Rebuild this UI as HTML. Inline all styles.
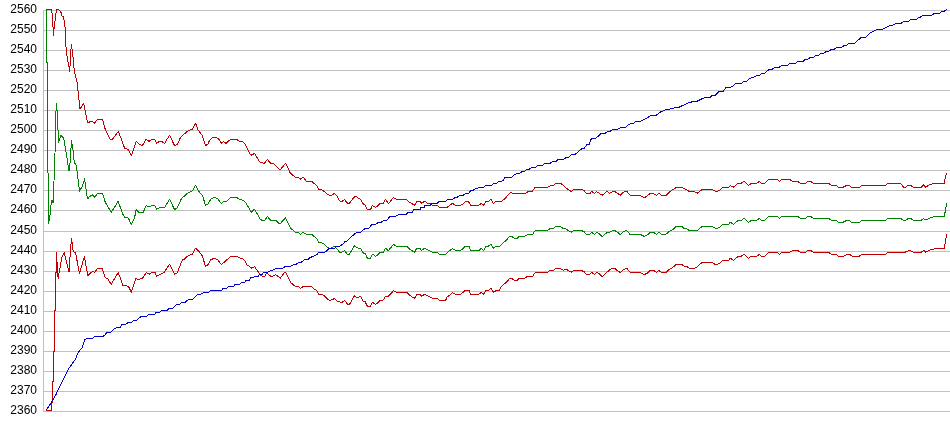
<!DOCTYPE html><html><head><meta charset="utf-8"><style>
html,body{margin:0;padding:0;background:#fff;width:950px;height:435px;overflow:hidden}
.l{position:absolute;right:913px;font:12px "Liberation Sans",sans-serif;color:#000;line-height:14px}
svg{position:absolute;left:0;top:0}
#labs{position:absolute;left:0;top:0;width:950px;height:435px;will-change:transform}
</style></head><body>
<div id="labs"><div class="l" style="top:2px">2560</div><div class="l" style="top:22px">2550</div><div class="l" style="top:42px">2540</div><div class="l" style="top:62px">2530</div><div class="l" style="top:82px">2520</div><div class="l" style="top:102px">2510</div><div class="l" style="top:122px">2500</div><div class="l" style="top:142px">2490</div><div class="l" style="top:162px">2480</div><div class="l" style="top:182px">2470</div><div class="l" style="top:202px">2460</div><div class="l" style="top:223px">2450</div><div class="l" style="top:243px">2440</div><div class="l" style="top:263px">2430</div><div class="l" style="top:283px">2420</div><div class="l" style="top:303px">2410</div><div class="l" style="top:323px">2400</div><div class="l" style="top:343px">2390</div><div class="l" style="top:363px">2380</div><div class="l" style="top:383px">2370</div><div class="l" style="top:403px">2360</div></div>
<svg width="950" height="435">
<rect x="43" y="10" width="1" height="402" fill="#c0c0c0"/>
<rect x="43" y="10" width="907" height="1" fill="#c0c0c0"/><rect x="43" y="30" width="907" height="1" fill="#c0c0c0"/><rect x="43" y="50" width="907" height="1" fill="#c0c0c0"/><rect x="43" y="70" width="907" height="1" fill="#c0c0c0"/><rect x="43" y="90" width="907" height="1" fill="#c0c0c0"/><rect x="43" y="110" width="907" height="1" fill="#c0c0c0"/><rect x="43" y="130" width="907" height="1" fill="#c0c0c0"/><rect x="43" y="150" width="907" height="1" fill="#c0c0c0"/><rect x="43" y="170" width="907" height="1" fill="#c0c0c0"/><rect x="43" y="190" width="907" height="1" fill="#c0c0c0"/><rect x="43" y="210" width="907" height="1" fill="#c0c0c0"/><rect x="43" y="231" width="907" height="1" fill="#c0c0c0"/><rect x="43" y="251" width="907" height="1" fill="#c0c0c0"/><rect x="43" y="271" width="907" height="1" fill="#c0c0c0"/><rect x="43" y="291" width="907" height="1" fill="#c0c0c0"/><rect x="43" y="311" width="907" height="1" fill="#c0c0c0"/><rect x="43" y="331" width="907" height="1" fill="#c0c0c0"/><rect x="43" y="351" width="907" height="1" fill="#c0c0c0"/><rect x="43" y="371" width="907" height="1" fill="#c0c0c0"/><rect x="43" y="391" width="907" height="1" fill="#c0c0c0"/><rect x="43" y="411" width="907" height="1" fill="#c0c0c0"/>
<g fill="none" stroke-width="1" shape-rendering="crispEdges" stroke-linejoin="round">
<polyline stroke="#c00000" points="46.0,9.5 51.5,9.5 52.5,16.0 53.4,35.5 54.0,29.5 55.0,21.5 56.5,9.5 58.6,9.5 61.0,12.4 62.0,16.0 63.5,17.0 64.5,22.0 65.3,30.0 65.5,46.7 66.4,47.2 67.0,55.9 68.1,62.2 69.0,66.8 69.5,71.4 70.2,64.5 70.7,52.4 71.4,44.9 72.2,50.7 73.3,59.3 74.1,69.1 75.3,76.0 76.8,80.0 80.0,109.0 83.7,103.3 87.6,122.9 91.7,121.0 94.5,123.3 97.5,119.4 100.0,119.3 102.6,119.3 104.7,127.9 106.2,131.0 110.3,139.3 112.4,139.3 118.4,131.3 124.8,148.6 127.9,149.1 131.5,155.3 136.2,141.4 139.3,144.5 142.4,145.5 146.0,139.3 149.1,141.4 151.7,139.3 154.8,139.6 156.4,143.1 159.5,141.4 161.5,141.4 164.6,143.4 169.5,135.2 174.5,145.5 177.1,144.5 180.7,137.2 183.8,134.4 188.4,130.5 192.1,129.3 195.7,123.3 198.1,130.0 202.4,135.7 205.5,145.5 207.6,144.5 209.6,140.3 212.7,137.2 215.8,137.2 219.5,139.8 221.5,143.4 223.3,141.7 225.0,142.4 226.0,143.4 229.7,140.1 231.7,139.3 236.4,139.3 239.5,141.2 242.1,141.6 244.6,143.2 249.8,154.0 251.9,155.3 254.5,153.3 260.2,162.6 264.3,163.3 267.4,159.5 270.5,163.1 273.6,163.6 279.3,169.1 280.6,169.3 285.5,163.3 290.0,172.4 291.9,174.5 295.7,177.4 298.6,177.4 300.7,179.2 303.3,177.1 306.4,181.2 311.5,181.2 314.7,184.0 316.5,185.3 318.8,189.3 322.9,190.3 327.9,194.8 331.1,195.4 334.2,193.5 336.8,196.0 339.9,201.1 342.5,201.1 344.4,199.4 347.5,203.2 349.4,203.2 355.0,196.2 356.6,196.4 358.1,198.2 360.7,199.5 363.3,204.1 365.3,205.2 367.4,209.6 370.5,209.6 372.4,205.5 375.5,207.2 377.2,206.2 380.3,203.4 383.1,203.4 385.5,199.3 388.3,203.6 390.7,201.0 393.5,197.4 396.4,199.5 406.7,199.5 409.3,202.1 411.9,203.6 414.5,205.5 416.8,201.3 419.6,201.3 421.7,203.4 425.0,201.0 426.7,202.9 430.0,203.4 432.7,205.4 437.7,205.4 439.1,207.1 440.0,207.4 447.2,207.4 449.8,205.3 452.4,203.3 455.5,205.3 460.7,205.3 462.8,204.3 465.6,201.2 468.4,201.2 470.5,205.3 478.8,205.3 481.4,203.3 483.4,205.6 486.0,201.5 488.6,201.2 491.2,199.1 493.3,203.3 496.4,201.2 501.5,201.2 505.1,198.6 507.7,195.5 510.0,192.9 517.9,193.4 525.7,193.4 527.8,191.9 532.4,191.2 535.0,187.2 547.4,187.2 550.5,185.7 553.1,185.7 555.7,183.3 560.3,183.3 562.4,184.6 566.6,188.4 569.1,190.2 571.4,191.5 573.3,189.4 581.5,189.4 584.1,190.7 586.7,193.6 589.8,193.6 591.7,191.5 594.5,193.6 596.5,191.5 599.6,193.6 602.4,195.3 605.3,192.5 607.2,191.5 609.5,193.6 612.6,191.5 614.6,191.5 617.2,193.0 620.3,195.3 623.4,192.2 626.8,191.2 630.1,195.3 635.0,195.3 639.9,195.5 644.5,197.8 650.5,193.3 653.6,193.6 656.5,195.3 658.6,193.3 661.7,195.3 666.0,195.3 670.9,190.9 676.7,187.2 681.3,187.2 689.3,191.4 693.9,191.4 697.4,193.2 702.0,189.5 712.2,189.3 715.3,191.4 717.4,191.4 720.0,189.8 722.6,187.2 728.6,187.2 730.3,185.5 733.4,187.2 736.5,184.4 738.6,183.4 741.2,183.4 743.5,181.3 745.8,182.6 748.4,185.5 751.3,183.4 756.7,183.4 759.3,181.3 761.4,183.4 764.5,183.4 767.6,180.3 769.6,179.3 775.0,179.3 777.6,179.3 779.3,181.3 782.2,179.3 789.5,179.3 792.6,181.3 797.8,181.3 800.3,183.4 805.8,183.4 807.6,181.3 810.7,181.3 813.3,183.4 828.8,183.4 831.4,185.5 836.8,185.5 838.3,187.2 843.3,187.2 845.0,186.2 846.6,185.5 849.7,185.5 851.4,187.2 859.5,187.2 861.5,185.5 885.3,185.5 887.4,183.4 900.8,183.4 903.4,187.2 905.5,187.2 908.1,185.5 910.7,185.5 913.3,187.2 915.0,187.2 921.3,187.2 923.6,184.9 925.9,187.2 928.9,184.9 933.9,183.3 944.3,183.3 945.4,176.4 946.6,173.0"/>
<polyline stroke="#008000" points="46.5,9.5 46.5,62.5 47.5,62.5 47.5,120.0 48.5,224.0 50.5,212.0 51.0,205.0 52.0,200.0 53.0,203.0 53.5,195.0 55.0,153.0 55.6,117.6 56.5,103.3 57.7,119.9 58.4,143.0 60.2,137.0 61.0,135.3 63.7,138.3 66.9,157.8 69.0,171.4 70.1,162.4 71.5,141.0 73.0,150.0 74.3,162.4 76.3,165.2 79.5,191.1 81.9,187.2 84.6,179.0 87.4,199.0 89.4,196.9 92.2,194.8 94.7,197.2 97.7,193.4 100.0,193.1 102.2,193.1 103.7,196.9 105.2,202.1 107.5,205.8 111.2,212.5 118.2,201.3 122.4,213.3 124.6,217.5 128.4,218.1 131.3,224.5 134.6,217.8 136.1,209.6 138.5,212.1 143.3,212.1 146.3,205.5 149.3,207.0 151.5,205.5 154.9,205.5 156.7,209.1 160.0,207.4 164.7,207.4 169.5,199.1 174.5,209.5 177.1,208.1 181.7,198.1 183.8,196.5 188.4,192.4 192.1,191.2 195.7,185.2 198.8,191.4 202.4,195.5 205.5,205.3 207.6,204.3 211.2,198.6 214.3,197.4 217.4,198.4 221.5,203.6 223.6,201.5 225.0,201.6 226.6,201.6 229.7,198.1 231.7,197.2 236.4,197.2 239.5,199.3 243.1,200.3 245.2,201.9 251.4,212.2 254.5,209.1 260.2,219.2 262.4,220.5 264.8,220.5 267.4,216.4 270.5,220.2 275.7,220.2 279.8,224.1 285.5,217.9 290.7,228.4 295.3,232.1 298.4,232.4 300.5,234.4 303.1,232.4 306.2,234.1 311.4,234.1 315.0,237.2 316.5,238.3 318.6,242.1 321.7,242.7 323.8,244.0 327.9,247.9 330.5,248.3 334.4,246.5 336.7,248.3 339.3,252.0 342.4,252.0 344.5,250.4 347.0,254.1 349.6,254.1 353.8,246.5 355.0,245.8 356.6,247.4 358.1,248.2 360.7,248.2 363.3,253.1 365.3,253.8 367.4,258.3 370.5,258.3 372.4,254.1 375.5,256.2 377.2,255.2 380.3,252.4 383.1,252.4 385.5,248.2 388.3,250.5 390.7,247.9 393.5,244.3 396.4,246.2 406.7,246.2 409.3,249.0 411.9,250.5 414.5,252.4 416.8,248.2 419.6,248.2 421.7,250.5 425.0,247.9 426.6,249.6 429.1,250.5 432.8,252.2 437.4,252.2 439.5,254.3 445.7,254.3 448.3,251.5 450.0,250.7 452.4,248.4 455.5,250.5 460.7,250.5 465.3,246.3 469.0,246.3 470.5,250.5 478.8,250.5 481.4,248.4 483.4,250.7 486.0,246.5 488.6,246.0 491.2,244.3 493.5,248.4 495.0,247.1 496.6,246.4 499.7,246.4 502.2,243.6 505.3,241.2 507.4,239.1 509.5,236.3 511.5,236.3 514.1,238.1 517.2,238.4 519.3,236.3 524.5,236.3 527.6,234.5 532.7,234.5 534.3,231.4 535.8,230.3 547.2,230.3 550.3,228.5 553.4,228.5 555.5,226.4 560.1,226.4 562.7,228.1 565.0,228.5 566.6,229.1 569.1,231.2 571.4,232.2 573.3,230.5 581.5,230.5 584.1,231.7 586.7,234.6 589.8,234.6 591.7,232.2 594.5,234.6 596.5,232.2 599.1,233.8 602.4,236.7 605.8,233.3 607.6,232.5 609.5,232.5 613.1,230.5 614.6,230.5 617.2,231.9 620.3,234.6 623.4,231.5 626.8,230.5 630.1,234.6 635.0,234.6 640.2,234.3 644.3,236.4 646.9,235.3 650.5,232.2 653.6,232.2 656.5,234.6 658.6,232.2 661.7,234.3 666.0,234.3 669.1,231.5 672.7,229.6 676.4,226.3 681.5,226.3 684.1,228.4 686.7,228.8 689.3,230.5 697.6,230.5 700.7,227.4 702.7,226.3 705.0,226.3 712.2,226.4 715.3,228.4 717.4,228.4 720.0,227.1 722.6,224.3 728.6,224.3 730.3,222.2 733.4,224.3 736.5,221.5 738.6,220.5 741.2,220.5 743.5,218.4 745.8,219.6 748.4,222.2 751.3,220.5 756.7,220.5 759.3,218.4 761.4,220.5 764.5,220.5 767.6,217.4 769.6,216.3 775.0,216.3 777.6,216.3 779.3,218.4 782.2,216.3 797.8,216.3 800.3,218.4 805.8,218.4 807.6,216.3 810.7,216.3 813.3,218.4 828.8,218.4 831.4,220.5 836.8,220.5 838.3,222.2 843.3,222.2 845.0,221.2 846.6,220.5 849.7,220.5 851.4,222.2 859.5,222.2 861.5,220.5 885.3,220.5 887.4,218.4 900.8,218.4 903.4,220.5 905.5,220.5 908.1,218.4 910.7,218.4 913.3,220.5 915.0,220.5 921.3,220.1 923.6,218.5 925.9,220.1 928.9,218.5 933.9,216.7 944.3,216.7 945.4,210.2 946.6,203.3"/>
<polyline stroke="#c00000" points="46.3,410.5 51.5,410.5 51.5,402.5 52.5,402.5 52.5,381.5 53.5,381.5 53.5,351.5 54.5,351.5 54.5,310.8 55.5,310.8 55.5,272.0 56.5,272.0 56.5,252.0 56.8,258.4 58.1,278.6 59.4,271.2 61.8,257.5 64.2,252.5 66.4,262.0 69.1,272.0 70.4,251.0 71.5,238.7 71.5,238.7 73.3,251.8 75.6,253.0 79.5,273.7 84.4,256.4 87.8,276.0 91.0,272.5 93.3,271.4 94.7,272.5 97.5,268.6 100.0,268.2 102.2,268.2 103.7,273.1 105.2,277.6 107.5,278.4 111.2,284.3 118.2,272.4 123.1,285.8 128.4,286.1 131.3,292.2 135.8,278.4 138.5,279.9 143.3,277.6 146.3,272.4 149.3,274.2 151.5,272.4 154.9,272.4 156.7,276.1 160.0,274.3 164.1,272.6 169.5,264.3 174.5,274.1 177.1,272.9 182.2,260.2 184.3,259.1 188.4,255.5 192.1,254.3 195.7,248.1 199.3,251.9 202.4,256.0 205.5,266.4 207.6,265.3 210.7,259.6 214.3,258.4 217.4,259.4 221.5,264.6 225.0,261.5 229.7,257.2 231.7,256.2 236.4,256.2 239.5,257.9 242.1,258.4 244.6,260.3 247.2,265.2 249.3,266.2 251.7,268.3 254.5,266.5 260.2,274.8 262.7,276.2 264.8,276.2 266.9,272.7 270.5,276.2 272.6,276.2 275.7,274.5 280.3,278.3 285.0,271.7 286.0,272.8 290.7,282.6 295.3,286.5 298.4,286.5 300.5,288.3 303.1,286.5 311.4,286.5 315.0,289.6 316.5,290.3 318.6,294.2 321.7,294.5 323.8,295.5 327.9,299.6 330.5,300.4 334.4,298.6 337.7,301.4 341.9,302.4 344.5,300.4 347.6,304.3 349.6,304.3 353.8,296.5 355.0,295.8 357.1,298.1 358.1,297.4 360.4,296.3 363.3,301.2 365.3,301.9 367.4,306.4 370.5,306.4 372.4,302.2 375.5,304.3 377.2,303.3 380.3,300.2 383.1,300.2 385.5,296.3 388.3,296.3 390.7,294.0 393.5,290.5 396.4,292.2 406.7,292.2 409.3,295.0 411.9,296.8 414.5,298.4 416.8,294.3 419.6,294.3 421.7,296.3 425.0,294.0 426.6,295.5 429.1,296.5 432.8,298.3 437.4,298.3 439.5,300.3 445.7,300.3 447.2,296.7 450.0,295.2 452.4,292.4 455.5,294.4 460.7,294.4 465.3,290.3 469.0,290.3 470.5,294.4 478.8,294.4 481.4,292.4 483.4,294.4 486.0,290.5 488.6,290.5 491.2,288.2 493.5,292.4 495.0,291.3 496.6,290.5 499.1,290.5 501.2,286.4 503.3,284.8 507.4,281.2 509.5,278.4 511.5,278.4 514.1,280.2 517.2,280.5 519.3,278.4 524.5,278.4 527.6,276.3 532.7,276.3 535.3,272.4 547.2,272.4 550.3,270.3 553.4,270.3 555.5,268.3 560.1,268.3 563.3,270.3 565.0,269.3 566.6,269.1 569.1,271.2 571.4,272.2 573.3,270.5 581.5,270.5 584.1,271.7 586.7,274.6 589.8,274.6 591.7,272.2 594.5,274.6 596.5,272.2 599.1,273.8 602.4,276.7 605.8,273.3 610.5,269.1 613.1,268.4 614.6,268.4 617.2,270.5 620.3,272.5 623.4,269.4 626.8,268.4 630.1,272.2 635.0,272.2 640.2,272.4 644.3,274.5 646.9,273.4 650.5,270.3 653.6,270.3 656.5,272.4 658.6,270.3 661.7,272.4 666.0,272.4 669.1,269.6 672.7,267.5 676.4,264.4 681.5,264.4 684.1,266.2 686.7,266.5 689.3,268.3 694.5,268.3 696.5,267.2 700.7,263.4 702.7,262.4 705.0,262.4 712.2,262.4 715.3,264.5 717.4,264.5 720.0,263.1 722.6,260.3 728.6,260.3 730.3,258.2 733.4,260.3 736.5,257.5 738.6,256.4 741.2,256.4 743.5,254.3 745.8,255.6 748.4,258.2 751.3,256.4 756.7,256.4 759.3,254.3 761.4,256.4 764.5,256.4 767.6,253.3 769.6,252.3 775.0,252.3 777.6,252.4 779.3,254.4 782.2,252.4 789.5,252.4 792.6,250.5 797.8,250.5 800.3,252.4 805.8,252.4 807.6,250.5 810.7,250.5 813.3,252.4 828.8,252.4 831.4,254.4 836.8,254.4 838.3,256.5 843.3,256.5 845.0,255.5 847.4,254.1 850.3,254.8 852.3,256.3 859.2,256.3 861.5,254.5 885.6,254.5 887.2,252.6 905.2,252.2 909.3,250.3 913.2,252.2 921.3,252.2 923.6,250.3 925.9,252.2 929.3,250.3 934.6,248.7 944.3,248.7 945.4,241.8 946.6,234.3"/>
<polyline stroke="#0000c8" points="46.3,410.0 51.3,402.5 55.9,394.7 59.6,386.9 63.3,379.1 68.4,369.1 75.3,359.3 78.2,352.5 82.1,347.6 85.0,339.5 87.4,338.5 92.6,338.5 94.3,336.5 102.7,336.5 104.3,335.5 107.1,332.5 110.7,332.5 113.6,329.5 116.4,327.5 120.4,327.5 122.0,324.5 125.2,324.5 128.4,322.5 131.7,322.5 133.3,320.5 136.5,320.5 139.7,317.5 141.3,316.5 146.4,316.5 148.3,314.5 154.3,314.5 156.1,312.5 159.3,312.5 161.6,310.5 167.1,310.5 169.0,308.5 172.2,308.5 175.4,305.5 176.8,304.5 179.6,304.5 181.4,302.5 185.1,302.5 188.3,299.5 192.4,299.5 194.3,297.5 197.5,294.5 200.3,294.5 203.5,292.5 205.0,292.5 208.6,292.5 210.2,290.5 221.9,290.5 223.1,288.5 226.7,288.5 228.3,286.5 233.6,286.5 234.8,284.5 239.6,284.5 241.2,282.5 244.9,282.5 246.0,280.5 249.3,280.5 250.9,277.5 253.3,277.5 254.5,276.3 255.0,276.5 258.0,276.5 259.7,274.5 262.0,274.5 263.7,272.5 267.3,272.5 268.9,271.5 270.9,270.5 272.5,270.5 274.1,269.5 275.7,268.5 282.6,268.5 283.8,267.5 285.4,266.5 290.2,266.5 291.8,265.5 293.8,264.5 295.9,264.5 298.3,262.5 300.7,262.5 303.1,261.0 304.7,259.5 307.9,259.5 310.0,257.5 313.0,256.5 315.0,255.5 317.0,254.5 318.3,252.5 324.4,252.5 326.0,251.5 328.0,249.5 329.3,248.5 334.7,248.5 336.0,246.5 339.6,246.5 341.0,245.5 343.0,244.0 345.0,241.5 346.4,241.5 350.5,237.5 355.1,233.5 357.4,232.5 360.2,232.5 363.4,229.5 365.7,228.5 368.4,228.5 372.1,224.5 375.3,224.5 378.1,222.5 380.8,222.5 383.6,220.5 386.4,220.5 390.0,216.5 395.0,216.5 399.0,214.5 406.0,214.5 408.0,212.5 412.0,212.5 414.0,209.5 420.0,209.5 421.0,207.5 424.0,207.5 425.0,205.5 430.0,205.5 432.0,203.5 437.0,203.5 439.0,201.5 440.0,201.5 445.7,201.5 447.2,199.5 452.4,199.5 455.0,197.5 457.0,197.5 459.6,195.5 462.8,195.5 465.9,193.5 468.4,193.5 471.0,190.5 473.0,190.5 475.7,188.5 477.2,188.5 479.3,187.5 483.4,187.5 485.5,185.5 491.7,185.5 493.8,183.5 496.4,183.5 498.9,181.5 501.0,181.5 503.6,180.0 505.0,177.5 511.2,177.5 514.8,174.5 517.4,173.5 519.5,173.5 522.0,171.5 524.1,171.5 526.7,169.5 528.8,169.5 531.4,167.5 535.5,167.5 537.6,165.5 542.2,165.5 544.8,163.5 550.0,163.5 552.6,161.5 555.7,161.5 558.3,159.5 563.4,159.5 566.0,157.5 568.6,157.5 570.0,156.0 571.6,154.5 575.2,154.5 579.3,150.5 582.4,148.5 584.0,148.5 587.1,144.5 589.1,144.5 590.7,139.8 592.2,138.0 595.9,138.0 597.9,136.5 600.5,133.8 604.6,133.8 607.7,131.5 609.8,131.5 612.4,129.5 617.6,129.5 620.7,127.5 625.8,127.5 628.4,124.5 631.0,123.5 633.1,123.5 635.7,121.5 640.0,121.5 646.1,118.6 650.7,115.6 656.4,115.2 661.0,111.7 666.8,109.4 672.5,108.7 676.0,107.1 679.4,107.1 686.3,103.7 692.1,101.8 696.7,101.4 701.3,99.1 705.9,97.2 710.0,97.7 712.1,95.5 715.2,95.5 718.8,91.5 722.9,91.5 726.0,87.5 730.2,87.5 732.2,86.5 735.3,83.5 741.5,83.5 742.5,82.5 743.5,81.5 746.5,81.5 747.5,80.5 748.5,79.5 749.5,78.5 750.5,78.5 751.5,77.5 753.5,77.5 754.5,76.5 755.5,76.5 756.5,75.5 759.6,75.5 761.7,73.5 764.3,73.5 767.4,70.5 769.5,69.5 772.0,69.5 774.6,67.5 779.0,67.5 780.0,66.4 781.6,65.5 787.8,65.5 789.8,63.5 795.5,63.5 797.6,61.5 802.8,61.5 805.3,59.5 807.4,59.5 810.0,57.5 813.1,57.5 815.7,55.5 818.8,55.5 820.8,53.5 823.4,53.5 826.0,51.5 828.6,51.5 831.2,49.5 833.8,49.5 836.4,47.5 841.5,47.5 844.1,45.5 846.2,45.5 848.8,43.5 850.0,43.4 854.7,43.5 857.8,40.5 860.9,37.5 865.5,37.5 870.7,32.5 873.3,31.5 877.4,29.5 882.1,29.5 885.7,27.5 890.3,25.5 892.4,25.5 896.0,23.5 900.7,23.5 903.8,21.5 908.4,21.5 910.5,19.5 916.2,19.5 918.8,17.5 920.0,17.3 922.7,15.4 931.0,15.4 934.4,13.5 939.9,13.1 942.0,11.3 944.7,11.0 946.8,9.4"/>
</g>
</svg>
</body></html>
